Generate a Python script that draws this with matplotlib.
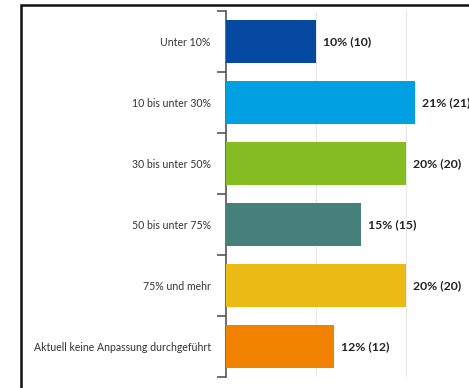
import matplotlib
matplotlib.use("Agg")
import matplotlib.pyplot as plt
from matplotlib.patches import Rectangle
from matplotlib.ticker import FixedLocator

categories = ["Unter 10%", "10 bis unter 30%", "30 bis unter 50%", "50 bis unter 75%",
              "75% und mehr", "Aktuell keine Anpassung durchgeführt"]
percent = [10, 21, 20, 15, 20, 12]
counts = [10, 21, 20, 15, 20, 12]
colors = ["#0649A0", "#00A0E3", "#84BC22", "#46807A", "#EBBA14", "#F08200"]

plt.rcParams['font.family'] = ['Lato', 'DejaVu Sans']

fig = plt.figure(figsize=(4.69, 3.88), dpi=100)
ax = fig.add_axes([226/469, 1 - 377/388, 1 - 226/469, (377 - 11)/388])

y = list(range(len(categories)))
ax.barh(y, percent, height=0.7, color=colors, zorder=3)
ax.set_ylim(len(categories) - 0.5, -0.5)
ax.set_xlim(0, 27)

for yi, p, c in zip(y, percent, counts):
    ax.annotate(f"{p}% ({c})", (p, yi), xytext=(5, 0), textcoords="offset points",
                ha="left", va="center", fontsize=8.8, fontweight="bold", color="#222222",
                annotation_clip=False)

ax.set_yticks(y)
ax.set_yticklabels(categories, fontsize=7.6, color="#333333")
ax.tick_params(axis="y", which="major", length=0, pad=11)
ax.yaxis.set_minor_locator(FixedLocator([i - 0.5 for i in range(len(categories) + 1)]))
ax.tick_params(axis="y", which="minor", length=6.5, width=1.2, color="#555555")
ax.set_xticks([10, 20])
ax.tick_params(axis="x", length=0, labelbottom=False)
ax.grid(axis="x", color="#E6E6E6", linewidth=0.8, zorder=0)

for s in ["top", "right", "bottom"]:
    ax.spines[s].set_visible(False)
ax.spines["left"].set_color("#555555")
ax.spines["left"].set_linewidth(1.2)

fig.add_artist(Rectangle((21/469, -0.2), 1.5, 1 - 5/388 + 0.2, transform=fig.transFigure,
                         fill=False, edgecolor="#111111", linewidth=1.8))

fig.savefig("out.png", dpi=100)
